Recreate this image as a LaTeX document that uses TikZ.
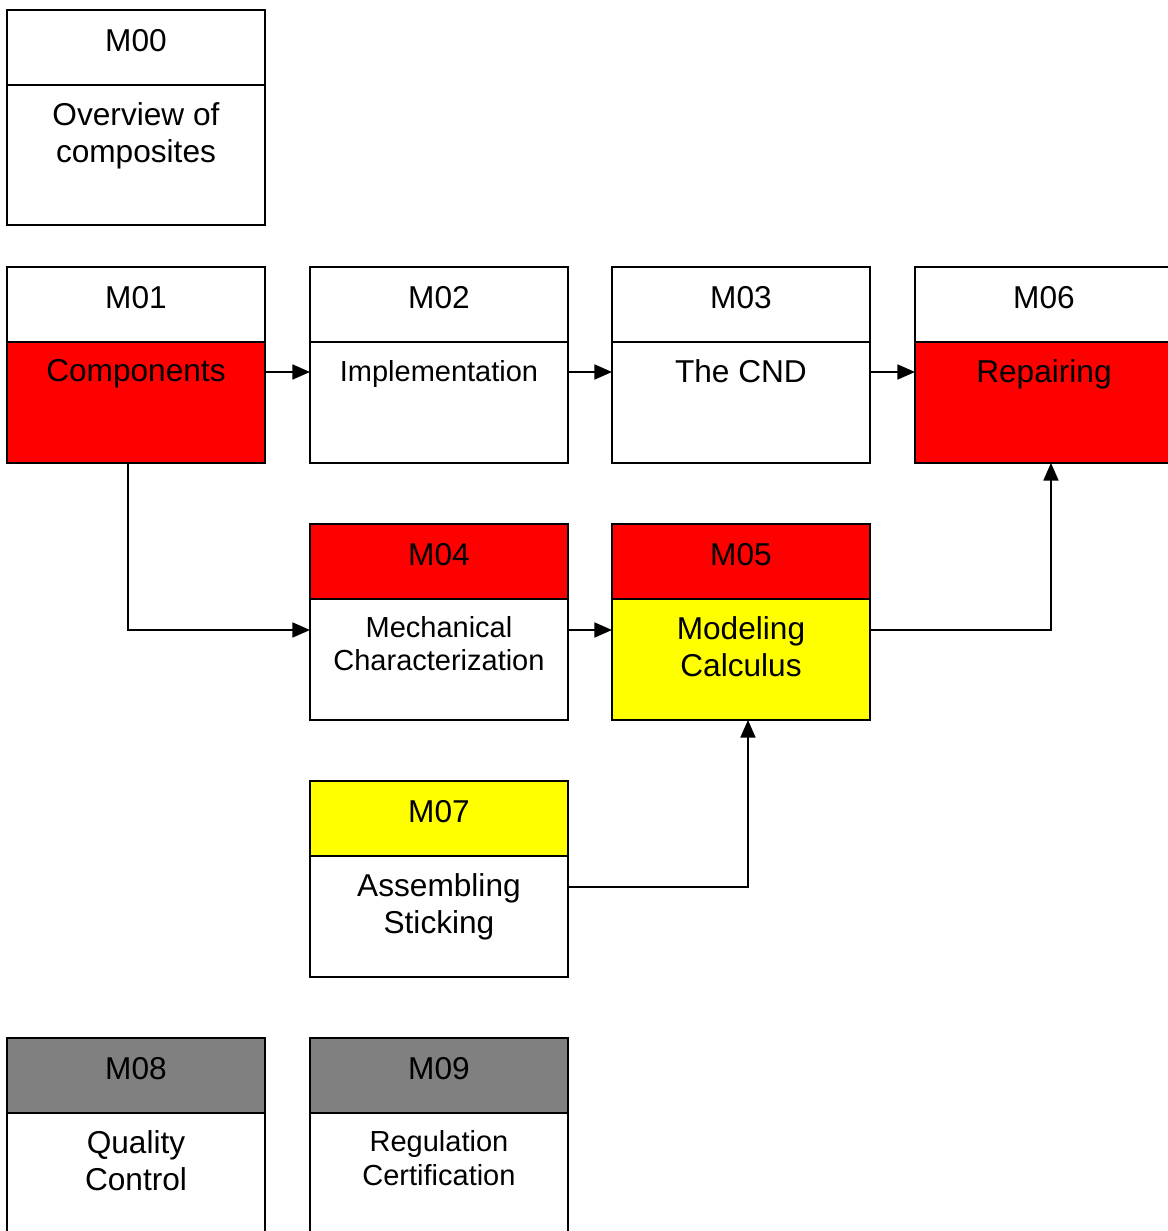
\documentclass[tikz,border=0pt]{standalone}
\usepackage{fontspec}
\setmainfont{Liberation Sans}
\usetikzlibrary{positioning,calc,arrows.meta}

\definecolor{modred}{RGB}{255,0,0}
\definecolor{modyellow}{RGB}{255,255,0}
\definecolor{modgray}{RGB}{128,128,128}

\newcommand{\modbig}{\fontsize{18}{21}\selectfont}
\newcommand{\modsmall}{\fontsize{16.5}{19}\selectfont}

\tikzset{
    modhead/.style={draw, line width=1.1pt, minimum width=5.16cm,
        minimum height=1.5cm, inner sep=0pt, outer sep=0pt,
        font=\modbig, text height=13pt, text depth=8pt},
    modbody/.style={draw, line width=1.1pt, minimum width=5.16cm,
        minimum height=2.42cm, inner sep=0pt, outer sep=0pt},
    tallbody/.style={modbody, minimum height=2.8cm},
    bigtext/.style={align=center, inner sep=0pt, font=\modbig},
    smalltext/.style={align=center, inner sep=0pt, font=\modsmall},
    conn/.style={line width=1.1pt, -{Triangle[length=10pt,width=8.5pt]}},
}

\begin{document}
\begin{tikzpicture}[x=0.02cm, y=-0.02cm]
    \clip (0,0) rectangle (1168,1231);

    % row 0
    \node [modhead, anchor=north west] (h0) at (7,10) {M00};
    \node [tallbody, below=0pt of h0] (b0) {};
    \node [bigtext, below=10pt of h0] (t0) {Overview of\\composites};

    % row 1
    \node [modhead, anchor=north west] (h1) at (7,267) {M01};
    \node [modbody, fill=modred, below=0pt of h1] (b1) {};
    \node [bigtext, below=10pt of h1] (t1) {Components};

    \node [modhead, anchor=north west] (h2) at (310,267) {M02};
    \node [modbody, below=0pt of h2] (b2) {};
    \node [smalltext, below=10.5pt of h2] (t2) {Implementation};

    \node [modhead, anchor=north west] (h3) at (612,267) {M03};
    \node [modbody, below=0pt of h3] (b3) {};
    \node [bigtext, below=10pt of h3] (t3) {The CND};

    \node [modhead, anchor=north west] (h6) at (915,267) {M06};
    \node [modbody, fill=modred, below=0pt of h6] (b6) {};
    \node [bigtext, below=10pt of h6] (t6) {Repairing};

    % row 2
    \node [modhead, fill=modred, anchor=north west] (h4) at (310,524) {M04};
    \node [modbody, below=0pt of h4] (b4) {};
    \node [smalltext, below=9.5pt of h4] (t4) {Mechanical\\Characterization};

    \node [modhead, fill=modred, anchor=north west] (h5) at (612,524) {M05};
    \node [modbody, fill=modyellow, below=0pt of h5] (b5) {};
    \node [bigtext, below=10pt of h5] (t5) {Modeling\\Calculus};

    % row 3
    \node [modhead, fill=modyellow, anchor=north west] (h7) at (310,781) {M07};
    \node [modbody, below=0pt of h7] (b7) {};
    \node [bigtext, below=10pt of h7] (t7) {Assembling\\Sticking};

    % row 4
    \node [modhead, fill=modgray, anchor=north west] (h8) at (7,1038) {M08};
    \node [tallbody, below=0pt of h8] (b8) {};
    \node [bigtext, below=10pt of h8] (t8) {Quality\\Control};

    \node [modhead, fill=modgray, anchor=north west] (h9) at (310,1038) {M09};
    \node [tallbody, below=0pt of h9] (b9) {};
    \node [smalltext, below=10pt of h9] (t9) {Regulation\\Certification};

    % connectors
    \draw [conn]
        ($(b1.north east)+(0,30)$) -- ($(b2.north west)+(0,30)$)
        ;
    \draw [conn]
        ($(b2.north east)+(0,30)$) -- ($(b3.north west)+(0,30)$)
        ;
    \draw [conn]
        ($(b3.north east)+(0,30)$) -- ($(b6.north west)+(0,30)$)
        ;
    \draw [conn]
        ($(b1.south)+(-8,0)$) |- ($(b4.north west)+(0,31)$)
        ;
    \draw [conn]
        ($(b4.north east)+(0,31)$) -- ($(b5.north west)+(0,31)$)
        ;
    \draw [conn]
        ($(b5.north east)+(0,31)$) -| ($(b6.south)+(7,0)$)
        ;
    \draw [conn]
        ($(b7.north east)+(0,31)$) -| ($(b5.south)+(7,0)$)
        ;
\end{tikzpicture}
\end{document}
